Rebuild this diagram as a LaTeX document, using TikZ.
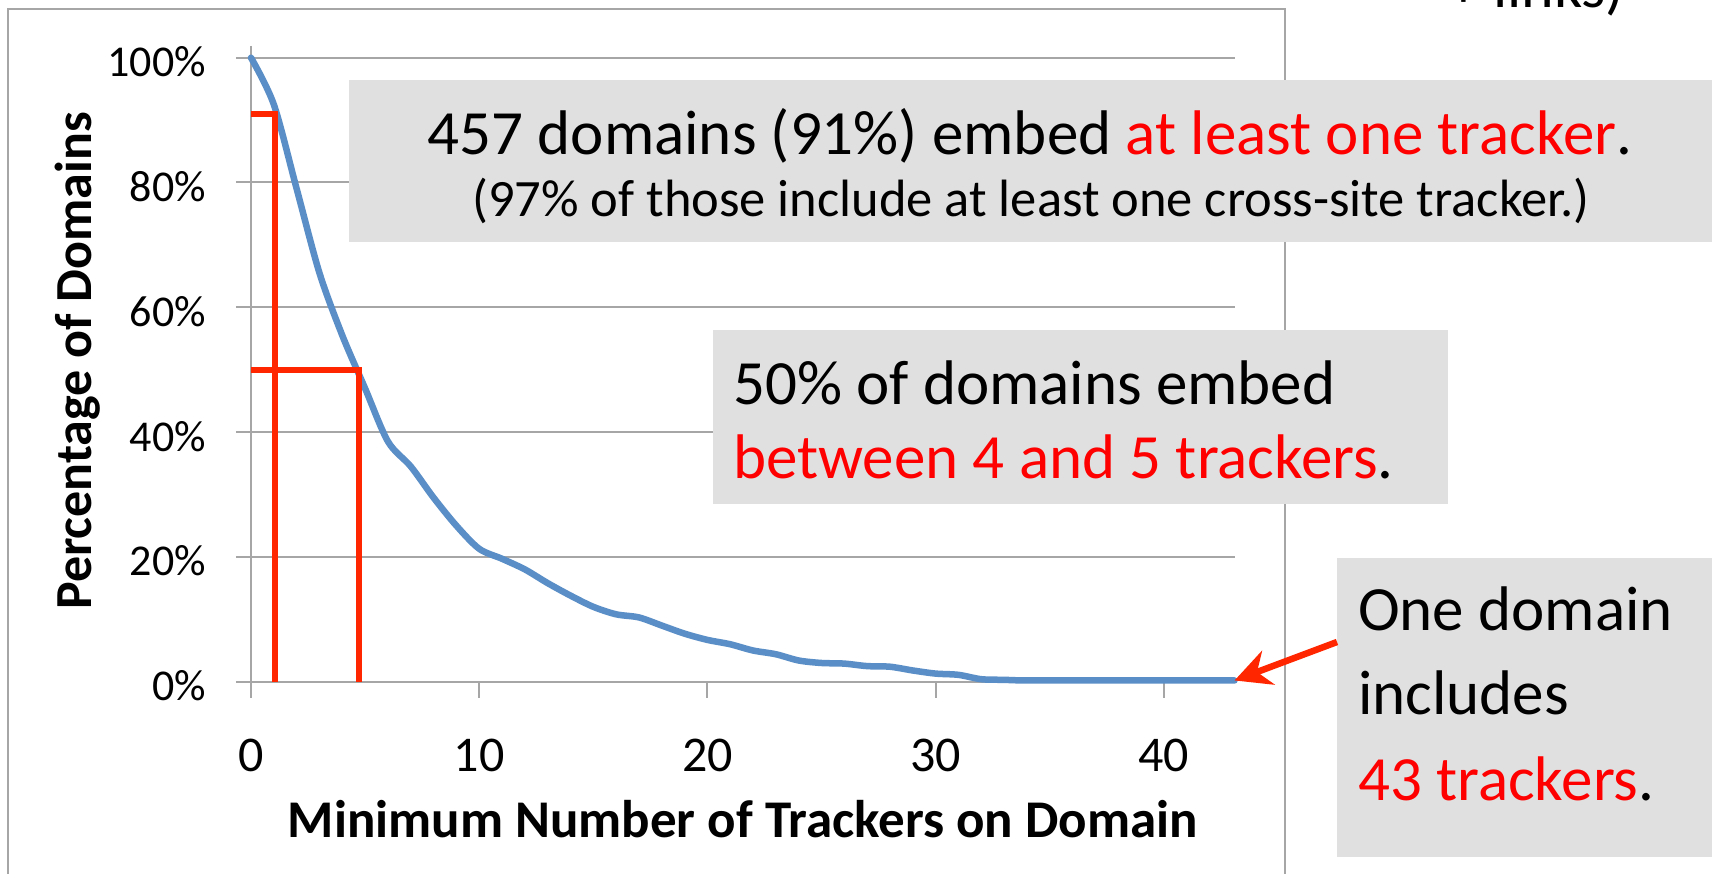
\documentclass[tikz,border=0pt]{standalone}
\usepackage{fontspec}
\setmainfont{Carlito}
\usetikzlibrary{arrows.meta}
\definecolor{boxgray}{RGB}{224,224,224}
\definecolor{gridc}{RGB}{166,166,166}
\definecolor{curveblue}{RGB}{90,142,198}
\definecolor{markred}{RGB}{255,38,0}
\definecolor{txtred}{RGB}{255,0,0}
\newcommand{\fs}[1]{\fontsize{#1}{#1}\selectfont}
\begin{document}
\begin{tikzpicture}[x=1pt,y=-1pt,
  graybox/.style={fill=boxgray, draw=none, inner sep=0pt, anchor=north west},
  txt/.style={inner sep=0pt, text=black},
  gridst/.style={draw=gridc, line width=2pt},
  curvest/.style={draw=curveblue, line width=6.5pt, line join=round, line cap=round},
  redst/.style={draw=markred, line width=6pt, line join=miter},
  arrowst/.style={draw=markred, fill=markred, line width=6.5pt, -{Stealth[length=36pt,width=36pt,inset=12pt]}}
]
\useasboundingbox (0,0) rectangle (1716,874);
\fill[white] (0,0) rectangle (1716,874);

% chart frame
\draw[gridst] (8,874) -- (8,9) -- (1285,9) -- (1285,874);

% top-right cut-off text
\node[txt, anchor=base west, font=\fs{62}] (links) at (1448,8) {+ links)};

% plot
\begin{scope}[shift={(251pt,-681.7pt)}, x=22.82pt, y=6.24pt]
  \foreach \p in {20,40,60,80,100} {
    \draw[gridst] (-0.66,\p) -- (43.1,\p);
  }
  \draw[gridst] (-0.66,0) -- (43.1,0);
  \draw[gridst] (0,101.9) -- (0,-2.6);
  \foreach \t in {10,20,30,40} {
    \draw[gridst] (\t,0) -- (\t,-2.6);
  }
  \draw[curvest] plot[smooth, tension=0.5] coordinates {(0,100) (1,92.5) (2,79) (3,65.5) (4,55.5) (5,47) (6,38.5) (7,34.5) (8,29.5) (9,25) (10,21.3) (11,19.7) (12,18) (13,15.8) (14,13.8) (15,12) (16,10.8) (17,10.3) (18,9) (19,7.7) (20,6.7) (21,6) (22,5) (23,4.4) (24,3.4) (25,3) (26,2.9) (27,2.5) (28,2.4) (29,1.8) (30,1.3) (31,1.1) (32,0.4) (33,0.3) (34,0.2) (37,0.2) (40,0.2) (43.1,0.2)};
  \coordinate (cend) at (43.1,0.2);
  \draw[redst] (0,91) -- (1.05,91) -- (1.05,0);
  \draw[redst] (0,50) -- (4.75,50) -- (4.75,0);
\end{scope}

% y tick labels
\foreach \p/\yy in {100/57.7, 80/182.5, 60/307.3, 40/432.1, 20/556.9, 0/681.7} {
  \node[txt, anchor=base east, font=\fs{44}] (yl\p) at (206,\yy+19) {\p\%};
}
% x tick labels
\foreach \t in {0,10,20,30,40} {
  \node[txt, anchor=base, font=\fs{50}] (xl\t) at (251+22.82*\t,771) {\t};
}
% axis titles
\node[txt, anchor=base, font=\fs{53}\bfseries] (xtitle) at (743,837) {Minimum Number of Trackers on Domain};
\node[txt, anchor=base, rotate=90, font=\fs{52}\bfseries] (ytitle) at (91,361) {Percentage of Domains};

% box 1
\node[graybox, minimum width=1363pt, minimum height=162pt] (box1) at (349,80) {};
\node[txt, anchor=base, font=\fs{63}] (b1a) at (1030,155) {457 domains (91\%) embed \textcolor{txtred}{at least one tracker}.};
\node[txt, anchor=base, font=\fs{52.5}] (b1b) at (1031,217) {(97\% of those include at least one cross-site tracker.)};

% box 2
\node[graybox, minimum width=735pt, minimum height=174pt] (box2) at (713,330) {};
\node[txt, anchor=base west, font=\fs{63}] (b2a) at (733,405) {50\% of domains embed};
\node[txt, anchor=base west, font=\fs{63}] (b2b) at (733,478) {\textcolor{txtred}{between 4 and 5 trackers}.};

% box 3
\node[graybox, minimum width=375pt, minimum height=299pt] (box3) at (1337,558) {};
\node[txt, anchor=base west, font=\fs{63}] (b3a) at (1358,630) {One domain};
\node[txt, anchor=base west, font=\fs{63}] (b3b) at (1358,714) {includes};
\node[txt, anchor=base west, font=\fs{63}] (b3c) at (1358,800) {\textcolor{txtred}{43 trackers}.};

% arrow
\coordinate (atail) at (1337,642);
\draw[arrowst] (atail) -- (cend);
\end{tikzpicture}
\end{document}
